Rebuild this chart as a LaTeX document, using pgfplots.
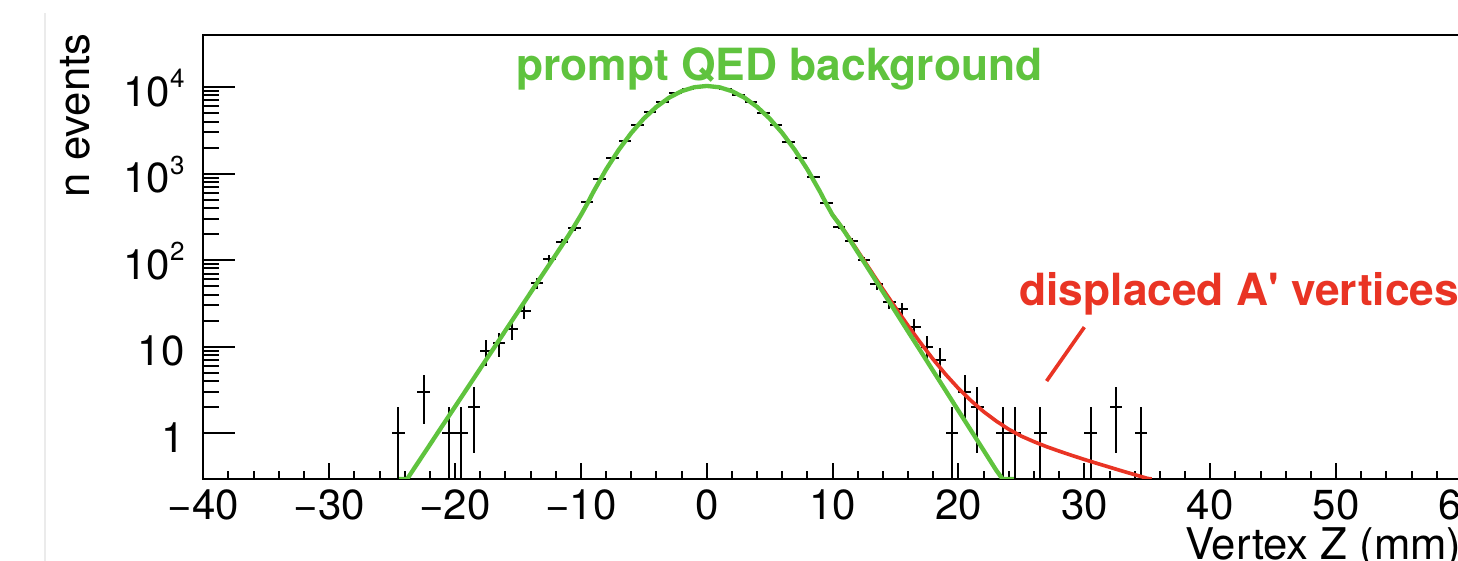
\documentclass[border=0pt]{standalone}
\usepackage{pgfplots}
\pgfplotsset{compat=1.18}
\usepackage{fontspec}
\setmainfont{TeX Gyre Heros}
\definecolor{qedgreen}{RGB}{95,195,62}
\definecolor{apred}{RGB}{233,52,36}
\newcommand\ee[1]{10\raisebox{5.6pt}{\fontsize{7.8pt}{8pt}\selectfont #1}}

% bin centre, counts, half bin width, error up, error down
\pgfplotstableread{
x     y     ex  ep    em
-24.5 1     0.5 1     0.99
-22.5 3     0.5 1.73  1.73
-20.5 1     0.5 1     0.99
-19.5 1     0.5 1     0.99
-18.5 2     0.5 1.41  1.41
-17.5 9     0.5 3     3
-16.5 11    0.5 3.32  3.32
-15.5 16    0.5 4     4
-14.5 26    0.5 5.10  5.10
-13.5 54    0.5 7.35  7.35
-12.5 104   0.5 10.2  10.2
-11.5 164   0.5 12.8  12.8
-10.5 233   0.5 15.3  15.3
-9.5  466   0.5 21.6  21.6
-8.5  866   0.5 29.4  29.4
-7.5  1525  0.5 39.1  39.1
-6.5  2377  0.5 48.8  48.8
-5.5  3600  0.5 60    60
-4.5  5215  0.5 72.2  72.2
-3.5  6745  0.5 82.1  82.1
-2.5  8510  0.5 92.2  92.2
-1.5  9460  0.5 97.3  97.3
-0.5  10150 0.5 100.7 100.7
0.5   10120 0.5 100.6 100.6
1.5   9380  0.5 96.9  96.9
2.5   8150  0.5 90.3  90.3
3.5   6800  0.5 82.5  82.5
4.5   5080  0.5 71.3  71.3
5.5   3635  0.5 60.3  60.3
6.5   2333  0.5 48.3  48.3
7.5   1525  0.5 39.1  39.1
8.5   914   0.5 30.2  30.2
9.5   453   0.5 21.3  21.3
10.5  244   0.5 15.6  15.6
11.5  168   0.5 13.0  13.0
12.5  100   0.5 10    10
13.5  53    0.5 7.28  7.28
14.5  33    0.5 5.74  5.74
15.5  27    0.5 5.20  5.20
16.5  17    0.5 4.12  4.12
17.5  10    0.5 3.16  3.16
18.5  7     0.5 2.65  2.65
19.5  1     0.5 1     0.99
20.5  3     0.5 1.73  1.73
21.5  2     0.5 1.41  1.41
23.5  1     0.5 1     0.99
24.5  1     0.5 1     0.99
26.5  1     0.5 1     0.99
30.5  1     0.5 1     0.99
32.5  2     0.5 1.41  1.41
34.5  1     0.5 1     0.99
}\hist

\pgfplotstableread{
x      y
-24.45 0.295
-23.8  0.295
-23.5  0.344
-23    0.443
-22    0.734
-21    1.22
-20    2.02
-19    3.35
-18    5.56
-17    9.21
-16    15.3
-15    25.3
-14    42.0
-13    69.6
-12    115
-11    191
-10.5  251
-10    331
-9.5   447
-9     617
-8     1114
-7     1875
-6     2946
-5     4325
-4     5902
-3     7534
-2     8974
-1     9954
0      10304
1      9954
2      8974
3      7534
4      5902
5      4325
6      2946
7      1875
8      1114
9      617
9.5    447
10     331
10.5   265
11     208
12     123
13     72.8
14     42.9
15     25.3
16     14.9
17     8.83
18     5.20
19     3.07
20     1.81
21     1.07
22     0.631
23     0.372
23.5   0.295
24.4   0.295
}\qed

\pgfplotstableread{
x     y
10    334
11    211
12    127
13    76.4
14    46.0
15    28.1
16    17.4
17    10.98
18    7.09
19    4.74
20    3.28
21    2.37
22    1.77
23    1.378
24    1.106
25    0.922
26    0.796
27    0.697
28    0.619
29    0.553
30    0.496
31    0.447
32    0.404
33    0.365
34    0.331
35    0.300
35.35 0.295
}\displaced

\begin{document}
\begin{tikzpicture}
\begin{axis}[
  at={(0,0)}, anchor=south west,
  scale only axis, width=377.6pt, height=133.2pt,
  xmin=-40, xmax=60,
  ymode=log, ymin=0.295, ymax=40000,
  axis line style={line width=0.6pt},
  tick align=inside, tick pos=left,
  xtick={-40,-30,...,60},
  xticklabels={−40,−30,−20,−10,0,10,20,30,40,50,60},
  minor x tick num=4,
  ytick={1,10,100,1000,10000},
  yticklabels={1,10,\ee{2},\ee{3},\ee{4}},
  xtick style={line width=0.6pt, black, /pgfplots/major tick length=4.8pt, /pgfplots/minor tick length=2.4pt},
  ytick style={line width=0.6pt, black, /pgfplots/major tick length=9.5pt, /pgfplots/minor tick length=4.8pt},
  tick label style={font=\fontsize{12.6pt}{14pt}\selectfont},
  xticklabel style={anchor=base, inner sep=0pt, yshift=-12.3pt},
  yticklabel style={anchor=base east, inner sep=0pt, xshift=-5.4pt, yshift=-5.8pt},
]
% histogram: crosses only (bin width and sqrt(N) errors), no markers
\addplot[draw=none, mark=none,
  error bars/.cd, x dir=both, x explicit, y dir=both, y explicit,
  error mark=none, error bar style={draw=black, line width=0.6pt}]
  table[x=x, y=y, x error=ex, y error plus=ep, y error minus=em] {\hist};
\addplot[apred, line width=1.1pt] table[x=x, y=y] {\displaced};
\addplot[qedgreen, line width=1.3pt] table[x=x, y=y] {\qed};
\addplot[apred, line width=1.1pt] coordinates {(27,4.0) (30,16.8)};
\node[anchor=base west, inner sep=0pt, text=qedgreen, font=\fontsize{13.3pt}{15pt}\selectfont\bfseries]
  at (axis cs:-15.2,11780) {prompt QED background};
\node[anchor=base west, inner sep=0pt, text=apred, font=\fontsize{13.3pt}{15pt}\selectfont\bfseries]
  at (axis cs:24.8,29.9) {displaced A\textquotesingle\ vertices};
\end{axis}
\node[anchor=base east, inner sep=0pt, font=\fontsize{13.1pt}{15pt}\selectfont] at (377.6pt,-24.3pt) {Vertex Z (mm)};
\node[rotate=90, anchor=base east, inner sep=0pt, font=\fontsize{13.1pt}{15pt}\selectfont] at (-34.2pt,133.8pt) {n events};
\draw[black!8, line width=0.8pt] (-47.5pt,-24.6pt) -- (-47.5pt,139.8pt);
\pgfresetboundingbox
\path[use as bounding box] (-60.99pt,-24.6pt) rectangle (376.41pt,143.7pt);
\end{tikzpicture}
\end{document}
